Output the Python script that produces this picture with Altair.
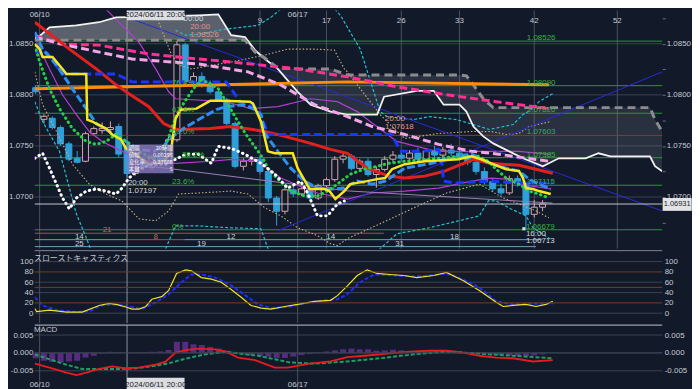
import altair as alt
import pandas as pd

# ---------------- colours / fonts ----------------
BG = "#121a2a"
GRID = "#3a4151"
VLINE = "#4a5060"
TXT = "#c4c8d0"
FONT = "Liberation Sans"
JFONT = "Noto Sans CJK JP"

X_DOM = [-0.1, 75.4]
P_DOM = [1.06494, 1.08827]
S_DOM = [-19.2, 121.2]
M_DOM = [-0.01111, 0.00778]

# ---------------- data ----------------
# candles: bar index, open, high, low, close (4h bars)
candles = [
    (0, 1.0807, 1.0809, 1.0801, 1.0803), (1, 1.0776, 1.0781, 1.0772, 1.0779),
    (2, 1.0777, 1.0779, 1.0766, 1.0768), (3, 1.0768, 1.0770, 1.0750, 1.0752),
    (4, 1.0752, 1.0754, 1.0735, 1.0737), (5, 1.0738, 1.0745, 1.0733, 1.0734),
    (6, 1.0735, 1.0764, 1.0734, 1.0762), (7, 1.0762, 1.0769, 1.0761, 1.0767),
    (8, 1.0765, 1.0773, 1.0762, 1.0767), (9, 1.0766, 1.0774, 1.0761, 1.0768),
    (10, 1.0769, 1.0772, 1.0739, 1.0742), (11, 1.0750, 1.0752, 1.07197, 1.0723),
    (12, 1.0723, 1.0737, 1.0721, 1.0734), (13, 1.0734, 1.0738, 1.0726, 1.0729),
    (14, 1.0729, 1.0741, 1.0727, 1.0738), (15, 1.0738, 1.0742, 1.0733, 1.0736),
    (16, 1.0736, 1.0759, 1.0734, 1.0756), (17, 1.0756, 1.08526, 1.0754, 1.0849),
    (18, 1.0849, 1.0851, 1.0811, 1.0813), (19, 1.0813, 1.0822, 1.0807, 1.0818),
    (20, 1.0818, 1.0822, 1.0807, 1.0810), (21, 1.0810, 1.0814, 1.0801, 1.0803),
    (22, 1.0803, 1.0806, 1.0793, 1.0795), (23, 1.0795, 1.0797, 1.0770, 1.0772),
    (24, 1.0772, 1.0774, 1.0728, 1.0730), (25, 1.0730, 1.0738, 1.0726, 1.0735),
    (26, 1.0735, 1.0739, 1.0731, 1.0737), (27, 1.0737, 1.0740, 1.0722, 1.0725),
    (28, 1.0725, 1.0727, 1.0695, 1.0699), (29, 1.0699, 1.0701, 1.0672, 1.0686),
    (30, 1.0686, 1.0710, 1.0683, 1.0707), (31, 1.0707, 1.0711, 1.0700, 1.0703),
    (32, 1.0703, 1.0710, 1.0701, 1.0708), (33, 1.0708, 1.0711, 1.0696, 1.0699),
    (34, 1.0699, 1.0713, 1.0697, 1.0711), (35, 1.0711, 1.0719, 1.0708, 1.0717),
    (36, 1.0717, 1.0740, 1.0715, 1.0737), (37, 1.0737, 1.0743, 1.0733, 1.0740),
    (38, 1.0740, 1.0742, 1.0726, 1.0728), (39, 1.0728, 1.0737, 1.0725, 1.0735),
    (40, 1.0735, 1.0738, 1.0720, 1.0722), (41, 1.0722, 1.0730, 1.0709, 1.0727),
    (42, 1.0727, 1.0740, 1.0725, 1.0737), (43, 1.0737, 1.0745, 1.0734, 1.0741),
    (44, 1.0741, 1.0745, 1.0735, 1.0738), (45, 1.0738, 1.0746, 1.0736, 1.0743),
    (46, 1.0743, 1.0748, 1.0734, 1.0737), (47, 1.0737, 1.0747, 1.0735, 1.0745),
    (48, 1.0745, 1.0750, 1.0739, 1.0741), (49, 1.0741, 1.0749, 1.0739, 1.0746),
    (50, 1.0746, 1.0752, 1.0740, 1.0743), (51, 1.0743, 1.0746, 1.0736, 1.0739),
    (52, 1.0739, 1.0742, 1.0731, 1.0734), (53, 1.0734, 1.0736, 1.0722, 1.0725),
    (54, 1.0725, 1.0729, 1.0712, 1.0715), (55, 1.0715, 1.0718, 1.0705, 1.0708),
    (56, 1.0708, 1.0713, 1.0701, 1.0704), (57, 1.0704, 1.0721, 1.0702, 1.0718),
    (58, 1.0718, 1.0721, 1.0710, 1.0713), (59, 1.0713, 1.0715, 1.06679, 1.0683),
    (60, 1.0683, 1.0697, 1.0680, 1.0690), (61, 1.0690, 1.0697, 1.0686, 1.06931),
]

# ichimoku cloud: x, leading span A (white), leading span B (grey dashed)
cloud = [
    (-0.1, 1.08536, 1.08536), (1.67, 1.08662, 1.08536), (4.90, 1.08681, 1.08536),
    (7.64, 1.08711, 1.08536), (9.68, 1.08759, 1.08536), (19.59, 1.08779, 1.08536),
    (21.98, 1.08788, 1.08536), (23.53, 1.08584, 1.08536), (25.20, 1.08565, 1.08536),
    (26.40, 1.08438, 1.08419), (27.59, 1.08351, 1.08361), (29.14, 1.08254, 1.08263),
    (31.53, 1.08030, 1.08254), (33.09, 1.07904, 1.08254), (35.48, 1.07836, 1.08254),
    (37.51, 1.07807, 1.08195), (41.09, 1.07807, 1.08195), (41.93, 1.07982, 1.08195),
    (45.87, 1.08040, 1.08195), (47.90, 1.08040, 1.08195), (49.09, 1.07904, 1.08195),
    (51.00, 1.07904, 1.08195), (51.84, 1.07836, 1.08186), (52.68, 1.07690, 1.08098),
    (53.87, 1.07593, 1.07962), (55.06, 1.07525, 1.07875), (56.98, 1.07447, 1.07875),
    (58.65, 1.07379, 1.07875), (61.04, 1.07301, 1.07875), (62.95, 1.07379, 1.07875),
    (66.17, 1.07379, 1.07875), (67.73, 1.07428, 1.07875), (69.16, 1.07398, 1.07875),
    (73.93, 1.07398, 1.07875), (74.53, 1.07301, 1.07758), (75.4, 1.07253, 1.07641),
]

red_ma = [(-0.1, 1.08711), (4.06, 1.08448), (7.29, 1.08254), (9.68, 1.08098), (11.23, 1.08011),
          (13.62, 1.07884), (15.41, 1.07719), (16.96, 1.07661), (21.02, 1.07671), (23.41, 1.07690),
          (26.16, 1.07661), (27.59, 1.07641), (29.98, 1.07593), (33.09, 1.07525), (35.48, 1.07466),
          (37.51, 1.07428), (39.89, 1.07282), (42.52, 1.07204), (44.43, 1.07185), (46.82, 1.07204),
          (49.21, 1.07253), (52.68, 1.07369), (54.59, 1.07330), (58.17, 1.07310), (62.23, 1.07233)]

yellow_line = [(-0.1, 1.08497), (0.48, 1.08448), (0.84, 1.08370), (2.03, 1.08370), (3.23, 1.08254),
               (3.70, 1.08205), (6.09, 1.08205), (6.21, 1.07758), (6.81, 1.07739), (7.29, 1.07719),
               (8.48, 1.07671), (9.20, 1.07612), (10.27, 1.07564), (10.87, 1.07476), (11.82, 1.07428),
               (13.62, 1.07321), (15.41, 1.07350), (16.24, 1.07428), (16.48, 1.07564), (16.84, 1.07768),
               (17.44, 1.07855), (19.35, 1.07865), (20.19, 1.07904), (21.02, 1.07943), (22.58, 1.07943),
               (25.80, 1.07933), (26.16, 1.07914), (27.11, 1.07739), (27.95, 1.07447), (28.79, 1.07428),
               (30.94, 1.07428), (31.53, 1.07282), (32.97, 1.07078), (34.76, 1.07078), (35.36, 1.07058),
               (36.07, 1.06980), (37.15, 1.07058), (37.86, 1.07126), (39.89, 1.07155), (41.09, 1.07175),
               (42.05, 1.07185), (42.88, 1.07272), (44.43, 1.07321), (46.82, 1.07350), (50.88, 1.07369),
               (52.44, 1.07398), (53.63, 1.07369), (54.83, 1.07330), (56.62, 1.07272), (58.17, 1.07253),
               (58.65, 1.07185), (59.01, 1.07087), (59.84, 1.07078), (60.56, 1.07058), (61.99, 1.07029)]

blue_dash = [(-0.1, 1.08419), (1.31, 1.08419), (3.23, 1.08205), (9.68, 1.08205), (11.59, 1.08127),
             (22.93, 1.08127), (23.53, 1.08059), (24.61, 1.07933), (26.76, 1.07865), (27.11, 1.07807),
             (27.95, 1.07612), (42.88, 1.07612), (43.48, 1.07515), (44.08, 1.07447), (46.46, 1.07447),
             (48.49, 1.07466), (48.85, 1.07350), (49.09, 1.07155), (50.41, 1.07136), (54.47, 1.07155),
             (58.17, 1.07136), (62.23, 1.07136)]

lblue_dash = [(-0.1, 1.08614), (0.84, 1.08448), (2.51, 1.08293), (4.42, 1.08059), (6.09, 1.07865),
              (7.29, 1.07719), (8.84, 1.07641), (10.03, 1.07593), (10.87, 1.07544), (12.42, 1.07466),
              (14.21, 1.07447), (15.41, 1.07496), (16.01, 1.07564), (17.80, 1.07671), (19.83, 1.07768),
              (21.74, 1.07855), (22.93, 1.07884), (24.96, 1.07904), (26.16, 1.07865), (27.11, 1.07807),
              (27.59, 1.07622), (29.14, 1.07447), (30.70, 1.07282), (32.37, 1.07155), (33.92, 1.07087),
              (35.95, 1.07078), (37.15, 1.07087), (38.70, 1.07155), (40.49, 1.07126), (42.05, 1.07155),
              (44.43, 1.07282), (47.66, 1.07330), (50.88, 1.07398), (52.44, 1.07418), (53.63, 1.07379),
              (54.47, 1.07330), (56.62, 1.07282), (58.17, 1.07253), (59.36, 1.07175), (60.56, 1.07126),
              (61.99, 1.07078)]

green_dot = [(-0.1, 1.08487), (0.48, 1.08322), (1.67, 1.08059), (2.87, 1.07865), (4.42, 1.07671),
             (6.09, 1.07544), (7.29, 1.07515), (8.48, 1.07544), (9.68, 1.07612), (10.87, 1.07544),
             (12.42, 1.07447), (14.21, 1.07369), (15.41, 1.07447), (16.24, 1.07641), (16.96, 1.07807),
             (18.16, 1.07962), (19.35, 1.08098), (19.95, 1.08147), (21.02, 1.08108), (21.98, 1.08059),
             (22.93, 1.07933), (24.13, 1.07768), (25.32, 1.07612), (26.52, 1.07476), (27.35, 1.07379),
             (27.95, 1.07282), (29.14, 1.07175), (30.70, 1.07058), (32.37, 1.07010), (33.92, 1.07010),
             (35.12, 1.07058), (36.31, 1.07126), (37.86, 1.07223), (39.54, 1.07272), (41.09, 1.07301),
             (42.52, 1.07330), (44.43, 1.07350), (48.49, 1.07379), (50.88, 1.07398), (53.27, 1.07398),
             (54.47, 1.07350), (55.42, 1.07272), (56.62, 1.07185), (58.17, 1.07126), (59.36, 1.07058),
             (60.56, 1.07029), (61.75, 1.06990)]

chikou = [(-0.1, 1.07379), (0.84, 1.07428), (1.67, 1.07282), (2.51, 1.07126), (3.23, 1.06990),
          (4.06, 1.06883), (4.90, 1.06990), (6.09, 1.07058), (7.29, 1.07078), (8.48, 1.07058),
          (9.68, 1.07029), (10.39, 1.07087), (11.23, 1.07185), (12.42, 1.07272), (13.98, 1.07321),
          (15.65, 1.07321), (18.04, 1.07418), (19.59, 1.07418), (21.14, 1.07330), (21.98, 1.07496),
          (23.53, 1.07476), (25.20, 1.07418), (27.11, 1.07330), (28.79, 1.07223), (30.34, 1.07087),
          (31.89, 1.07155), (32.73, 1.07039), (33.92, 1.06815), (35.12, 1.06815), (36.31, 1.06932),
          (37.15, 1.06961)]

hot_pink = [(-0.1, 1.08584), (2.87, 1.08497), (7.64, 1.08487), (13.62, 1.08400), (19.59, 1.08351),
            (23.53, 1.08322), (31.53, 1.08254), (37.51, 1.08176), (43.48, 1.08079), (49.45, 1.08001),
            (55.42, 1.07933), (61.75, 1.07865)]

light_pink = [(-0.1, 1.08565), (3.70, 1.08487), (11.59, 1.08351), (19.59, 1.08302), (25.56, 1.08225),
              (29.50, 1.08098), (33.56, 1.07904), (37.51, 1.07787), (40.49, 1.07690), (44.43, 1.07612),
              (48.49, 1.07515), (52.44, 1.07447), (54.83, 1.07428), (61.75, 1.07350)]

orange_line = [(-0.1, 1.08059), (37.51, 1.08127), (61.75, 1.08098)]

mag_upper = [(7.64, 1.08905), (9.20, 1.08779), (12.42, 1.08516), (14.45, 1.08254), (16.01, 1.08030),
             (16.84, 1.07962), (22.81, 1.07933), (25.92, 1.07865), (29.14, 1.07884), (33.09, 1.07962),
             (36.31, 1.07933), (38.70, 1.07836), (40.25, 1.07739), (43.48, 1.07544), (48.25, 1.07447),
             (54.23, 1.07447), (58.17, 1.07447), (61.99, 1.07418)]

mag_lower = [(0.12, 1.08516), (1.67, 1.08254), (3.23, 1.08001), (4.90, 1.07807), (6.45, 1.07641),
             (8.00, 1.07544), (9.68, 1.07476), (10.87, 1.07428), (13.62, 1.07350), (16.84, 1.07330),
             (21.14, 1.07350), (23.53, 1.07369), (26.76, 1.07350), (29.50, 1.07185), (32.37, 1.07087),
             (33.92, 1.07039), (37.51, 1.06980), (40.49, 1.07039), (44.43, 1.07058), (48.49, 1.07087),
             (52.44, 1.07155), (54.83, 1.07185), (56.62, 1.07175), (58.17, 1.07126), (61.99, 1.07078)]

cyan_upper = [(16.84, 1.08633), (18.04, 1.08584), (19.59, 1.08594), (22.81, 1.08643), (26.76, 1.08681),
              (28.31, 1.08759), (29.74, 1.08856), (35.6, 1.08876), (36.67, 1.08779), (37.51, 1.08662),
              (39.06, 1.08448), (41.45, 1.07836), (42.29, 1.07787), (45.51, 1.07758), (47.42, 1.07787),
              (50.65, 1.07758), (52.68, 1.07709), (54.59, 1.07661), (57.45, 1.07709), (58.65, 1.07807),
              (59.84, 1.07865), (60.56, 1.07933), (62.23, 1.08011)]

cyan_lower = [(-0.1, 1.07933), (0.84, 1.07739), (2.87, 1.07447), (4.90, 1.06835), (6.09, 1.06601),
              (6.69, 1.06475), (7.3, 1.0630), (15.0, 1.0630), (15.65, 1.06495), (16.84, 1.06718),
              (19.35, 1.06718), (23.17, 1.06699), (27.11, 1.06689), (27.95, 1.06494), (28.5, 1.0630),
              (40.8, 1.0630), (41.45, 1.06494), (43.48, 1.06640), (47.42, 1.06699), (53.39, 1.06815),
              (54.47, 1.06961), (55.42, 1.06961), (57.21, 1.06883), (59.01, 1.06815), (59.84, 1.06699),
              (62.23, 1.06572)]

tan_upper = [(14.21, 1.08905), (14.81, 1.08711), (16.36, 1.08390), (17.2, 1.08293), (18.75, 1.08254),
             (23.53, 1.08322), (27.59, 1.08390), (30.34, 1.08448), (33.56, 1.08448), (35.95, 1.08438),
             (37.15, 1.08254), (37.51, 1.08225), (41.45, 1.07807), (43.48, 1.07641), (44.43, 1.07573),
             (48.49, 1.07622), (52.44, 1.07641), (54.83, 1.07641), (56.62, 1.07612), (58.17, 1.07622),
             (59.36, 1.07690), (61.99, 1.07739)]

tan_lower = [(-0.1, 1.08225), (0.84, 1.07904), (2.51, 1.07641), (4.42, 1.07321), (6.45, 1.07126),
             (8.48, 1.07029), (10.39, 1.06961), (12.42, 1.06786), (14.45, 1.06767), (16.01, 1.06864),
             (17.2, 1.07029), (19.59, 1.07039), (23.53, 1.07058), (25.56, 1.07029), (27.59, 1.06893),
             (29.50, 1.06815), (31.53, 1.06699), (33.92, 1.06621), (35.48, 1.06543), (36.31, 1.06524),
             (37.51, 1.06592), (41.45, 1.06738), (45.51, 1.06893), (49.45, 1.07039), (53.39, 1.07126),
             (56.26, 1.06990), (58.17, 1.06932), (60.20, 1.06864), (61.75, 1.06796)]

trend_down = [(10.99, 1.08759), (75.4, 1.06864)]
trend_up = [(29.14, 1.06669), (75.4, 1.08225)]
measure_line = [(11.0, 1.0733), (37.5, 1.0706), (62.2, 1.0694)]

fib_green = [1.08526, 1.08090, 1.07820, 1.07385, 1.07115, 1.06679]
fib_mid = [1.07603]
fib_text = [("1.08526", 59.1, 1.08526), ("1.08090", 59.1, 1.08090), ("1.07820", 59.1, 1.07820),
            ("1.07603", 59.1, 1.07603), ("1.07385", 59.1, 1.07385), ("1.07115", 59.1, 1.07115)]
fib_pct = [("76.4%", 16.4, 1.08090), ("61.8%", 16.4, 1.07820), ("50.0%", 16.4, 1.07603),
           ("38.2%", 17.6, 1.07385), ("23.6%", 16.4, 1.07115), ("0%", 16.4, 1.06679)]

count_red = [(-0.1, 41.9, 1.06645), (11.0, 17.9, 1.06582)]
count_steel = [(-0.1, 11.0, 1.06582), (17.9, 61.0, 1.06582), (-0.1, 60.2, 1.06514)]
count_red_txt = [("21", 8.6, 1.06645), ("8", 14.45, 1.06582)]
count_steel_txt = [("14", 5.26, 1.06582), ("12", 23.5, 1.06582), ("14", 35.5, 1.06582),
                   ("18", 50.4, 1.06582), ("25", 5.26, 1.06514), ("19", 19.95, 1.06514),
                   ("31", 43.8, 1.06514)]

vgrid_main = [0.48, 27, 31.53, 35, 44, 51, 60, 70]
cursor_x = [11.0]
vgrid_sub = [0.48, 31.53]

price_ticks = [1.0700, 1.0750, 1.0800, 1.0850]
price_ticks_r = [1.0675, 1.0700, 1.0725, 1.0750, 1.0775, 1.0800, 1.0825, 1.0850, 1.0875]
last_price = [1.06931]

top_dates = [("06/10", 0.48, 1.08779), ("06/17", 31.53, 1.08779)]
top_counts = [("9", 27, 1.08722), ("17", 35, 1.08722), ("26", 44, 1.08722), ("33", 51, 1.08722),
              ("42", 60, 1.08722), ("52", 70, 1.08722)]
cursor_box_top = [(10.99, 17.92, 1.08827, 1.08730)]
cursor_txt_top = [("2024/06/11 20:00", 14.45, 1.08779)]

marks_white = [("00:00", 17.8, 1.08740), ("20:00", 11.1, 1.07136), ("1.07197", 11.1, 1.07058),
               ("16:00", 59.0, 1.06640), ("1.06713", 59.0, 1.06572)]
marks_salmon = [("20:00", 18.6, 1.08662), ("1.08526", 18.6, 1.08584),
                ("20:00", 42.05, 1.07768), ("1.07618", 42.05, 1.07681)]
low_mark = [("1.06679", 59.0, 1.06709)]
low_dot = [(58.75, 1.06689)]

info_box = [(11.0, 16.6, 1.07233, 1.07515)]
info_left = [("期間", 11.2, 1.07476), ("値幅", 11.2, 1.07408), ("変化率", 11.2, 1.07340),
             ("本数", 11.2, 1.07272)]
info_right = [("20時間", 16.5, 1.07476), ("0.00298", 16.5, 1.07408), ("0.27868", 16.5, 1.07340),
              ("5", 16.5, 1.07272)]

price_box = [(75.45, 78.95, 1.06864, 1.06990)]
price_box_txt = [("1.06931", 77.2, 1.06931)]

# slow stochastics
stoch_k = [(-0.1, 9), (0.12, 3), (1.67, 6), (3.70, 2), (5.61, 2), (7.64, 15), (8.84, 19), (9.68, 17),
           (10.87, 12), (11.59, 8), (12.42, 8), (13.26, 13), (13.98, 27), (15.17, 32), (16.01, 44),
           (16.96, 77), (18.04, 84), (18.75, 82), (19.95, 69), (21.14, 66), (22.34, 60), (23.53, 46),
           (24.73, 31), (25.92, 15), (27.11, 10), (28.31, 8), (29.98, 13), (31.53, 17), (33.56, 23),
           (35.48, 25), (36.31, 34), (37.51, 53), (38.70, 73), (39.89, 84), (41.09, 77), (42.64, 75),
           (44.31, 73), (45.87, 69), (47.90, 73), (49.45, 79), (51.48, 63), (53.39, 44), (55.42, 21),
           (56.26, 13), (57.45, 15), (59.01, 17), (60.20, 13), (61.40, 17), (62.23, 23)]
stoch_d = [(-0.1, 31), (0.84, 15), (2.51, 6), (4.90, 2), (6.45, 4), (8.00, 15), (9.68, 17), (11.59, 12),
           (12.78, 8), (14.45, 21), (16.01, 37), (17.56, 60), (18.75, 75), (19.95, 75), (21.62, 69),
           (23.53, 54), (25.20, 35), (26.76, 17), (28.31, 10), (30.34, 12), (32.37, 19), (34.76, 25),
           (36.31, 27), (37.51, 37), (39.06, 60), (40.73, 75), (43.48, 73), (45.51, 71), (47.42, 73),
           (49.45, 77), (51.48, 65), (53.39, 50), (55.42, 23), (57.45, 17), (59.84, 19), (62.23, 19)]
stoch_grid = [0, 40, 60, 100]
stoch_levels = [20, 50, 80]
stoch_ticks = [0, 20, 40, 60, 80, 100]

# MACD
macd_line = [(-0.1, -0.0030), (1.67, -0.0041), (3.70, -0.0055), (4.90, -0.0062), (6.09, -0.0055),
             (7.64, -0.0045), (9.20, -0.0038), (10.87, -0.0043), (12.42, -0.0041), (14.45, -0.0033),
             (15.65, -0.0024), (16.84, 0.0001), (18.04, 0.0008), (19.59, 0.0012), (21.62, 0.0010),
             (22.81, 0.0004), (24.37, -0.0013), (26.40, -0.0020), (28.79, -0.0041), (30.34, -0.0041),
             (32.73, -0.0031), (35.48, -0.0024), (37.51, -0.0012), (39.54, -0.0008), (41.45, -0.0004),
             (43.48, 0.0001), (45.51, 0.0004), (47.42, 0.0006), (49.45, 0.0006), (51.48, 0.0001),
             (53.39, -0.0008), (55.42, -0.0013), (57.45, -0.0015), (59.84, -0.0024), (62.23, -0.0020)]
macd_signal = [(-0.1, -0.0004), (1.67, -0.0018), (3.70, -0.0033), (5.61, -0.0045), (7.64, -0.0045),
               (9.68, -0.0045), (11.59, -0.0044), (14.45, -0.0036), (16.36, -0.0027), (18.04, -0.0016),
               (20.43, -0.0004), (22.81, 0.0003), (24.37, -0.0001), (26.76, -0.0008), (28.79, -0.0018),
               (30.70, -0.0027), (33.56, -0.0030), (37.51, -0.0024), (41.45, -0.0015), (45.51, -0.0004),
               (49.45, 0.0004), (53.39, -0.0002), (57.45, -0.0008), (62.23, -0.0015)]
macd_hist = [-0.0015, -0.0022, -0.0025, -0.0027, -0.0024, -0.0022, -0.0013, -0.0008, -0.0002, 0.0003,
             0.0001, 0.0000, 0.0001, 0.0002, 0.0003, 0.0004, 0.0008, 0.0031, 0.0031, 0.0024,
             0.0022, 0.0017, 0.0012, 0.0006, -0.0002, -0.0004, -0.0007, -0.0009, -0.0011, -0.0014,
             -0.0014, -0.0010, -0.0006, -0.0003, 0.0001, 0.0004, 0.0007, 0.0010, 0.0012, 0.0010,
             0.0010, 0.0006, 0.0007, 0.0009, 0.0007, 0.0004, 0.0002, 0.0002, 0.0001, 0.0000,
             -0.0001, -0.0001, -0.0002, -0.0003, -0.0003, -0.0004, -0.0006, -0.0007, -0.0009, -0.0009,
             -0.0007, -0.0004]
macd_ticks = [-0.005, 0.0, 0.005]
bottom_dates = [("06/10", 0.48, -0.00889), ("06/17", 31.53, -0.00889)]
cursor_box_bot = [(10.99, 17.92, -0.00694, -0.01083)]
cursor_txt_bot = [("2024/06/11 20:00", 14.45, -0.00889)]


# ---------------- helpers ----------------
def XE(f="x"):
    return alt.X(f"{f}:Q", scale=alt.Scale(domain=X_DOM, nice=False, zero=False, padding=0), axis=None)


def YE(dom, f="y", axis=None):
    return alt.Y(f"{f}:Q", scale=alt.Scale(domain=dom, nice=False, zero=False), axis=axis)


def series(pairs, dom, color, width=1.0, dash=None, cap="butt", opacity=1.0):
    df = pd.DataFrame(pairs, columns=["x", "y"])
    kw = dict(color=color, strokeWidth=width, strokeCap=cap, opacity=opacity, clip=True)
    if dash is not None:
        kw["strokeDash"] = dash
    return alt.Chart(df).mark_line(**kw).encode(x=XE(), y=YE(dom))


def hlines(vals, dom, color, width=1.0, axis=None):
    df = pd.DataFrame({"y": vals})
    return alt.Chart(df).mark_rule(color=color, strokeWidth=width).encode(y=YE(dom, axis=axis))


def vlines(vals, color, width=1.0):
    df = pd.DataFrame({"x": vals})
    return alt.Chart(df).mark_rule(color=color, strokeWidth=width).encode(x=XE())


def segs(rows, dom, color, width=1.0):
    df = pd.DataFrame(rows, columns=["x", "x2", "y"])
    return alt.Chart(df).mark_rule(color=color, strokeWidth=width).encode(x=XE(), x2="x2:Q", y=YE(dom))


def labels(rows, dom, color, size=8, align="left", baseline="middle", font=FONT, dy=0):
    df = pd.DataFrame(rows, columns=["t", "x", "y"])
    return alt.Chart(df).mark_text(color=color, fontSize=size, align=align, baseline=baseline,
                                   font=font, dy=dy).encode(x=XE(), y=YE(dom), text="t:N")


def boxes(rows, dom, color, opacity=1.0):
    df = pd.DataFrame(rows, columns=["x", "x2", "y", "y2"])
    return alt.Chart(df).mark_rect(color=color, opacity=opacity).encode(
        x=XE(), x2="x2:Q", y=YE(dom), y2="y2:Q")


def axis(orient, values, fmt=None, expr=None, ticks=False):
    kw = dict(orient=orient, values=values, labelColor=TXT, labelFont=FONT, labelFontSize=8,
              domain=False, grid=False, title=None, labelPadding=2)
    if orient == "left":
        kw.update(minExtent=27, maxExtent=27)
    if ticks:
        kw.update(ticks=True, tickSize=3, tickColor="#6a707e", labelPadding=1)
    else:
        kw.update(ticks=False)
    if fmt is not None:
        kw["format"] = fmt
    if expr is not None:
        kw["labelExpr"] = expr
    return alt.Axis(**kw)


# ---------------- main price panel ----------------
cdf = pd.DataFrame(candles, columns=["x", "o", "h", "l", "c"])
up = cdf[cdf["c"] >= cdf["o"]]
dn = cdf[cdf["c"] < cdf["o"]]
BLUE_C = "#2f9fd9"
PINK_C = "#d7a3ad"

cl = pd.DataFrame(cloud, columns=["x", "a", "b"])
cloud_left = cl[cl["x"] <= 29.14]
cloud_right = cl[cl["x"] >= 29.14]

main_layers = [
    hlines(price_ticks, P_DOM, GRID, axis=axis("left", price_ticks, fmt=".4f")),
    vlines(vgrid_main, VLINE),
    vlines(cursor_x, "#8d929c"),
    alt.Chart(cloud_left).mark_area(color="#b4b6bd", opacity=0.45, clip=True).encode(
        x=XE(), y=YE(P_DOM, "a"), y2="b:Q"),
    alt.Chart(cloud_right).mark_area(color="#a3a7b0", opacity=0.16, clip=True).encode(
        x=XE(), y=YE(P_DOM, "a"), y2="b:Q"),
    hlines(fib_green, P_DOM, "#1f9d2c"),
    hlines(fib_mid, P_DOM, "#8b3b26"),
    segs(count_red, P_DOM, "#b34a45"),
    segs(count_steel, P_DOM, "#6b9fc2"),
    alt.Chart(dn).mark_rule(color=BLUE_C, strokeWidth=1).encode(x=XE(), y=YE(P_DOM, "l"), y2="h:Q"),
    alt.Chart(up).mark_rule(color=PINK_C, strokeWidth=1).encode(x=XE(), y=YE(P_DOM, "l"), y2="h:Q"),
    alt.Chart(dn).mark_bar(size=6, color=BLUE_C, stroke=BLUE_C, strokeWidth=1).encode(
        x=XE(), y=YE(P_DOM, "o"), y2="c:Q"),
    alt.Chart(up).mark_bar(size=6, fill=BG, stroke=PINK_C, strokeWidth=1).encode(
        x=XE(), y=YE(P_DOM, "o"), y2="c:Q"),
    series(tan_upper, P_DOM, "#c8b27c", 1.1, dash=[1.5, 2]),
    series(tan_lower, P_DOM, "#c8b27c", 1.1, dash=[1.5, 2]),
    series(cyan_upper, P_DOM, "#22c3cf", 1.2, dash=[3, 2]),
    series(cyan_lower, P_DOM, "#22c3cf", 1.2, dash=[3, 2]),
    series(mag_upper, P_DOM, "#b23dd0", 1.2),
    series(mag_lower, P_DOM, "#b23dd0", 1.2),
    series(trend_down, P_DOM, "#2a2ad6", 1.0),
    series(trend_up, P_DOM, "#2a2ad6", 1.0),
    series(measure_line, P_DOM, "#9c7fb4", 1.0),
    series(cl[["x", "a"]].values.tolist(), P_DOM, "#f2f2f2", 1.8),
    series(cl[["x", "b"]].values.tolist(), P_DOM, "#8c8c8c", 3, dash=[8, 5]),
    series(orange_line, P_DOM, "#ff8c0a", 3),
    series(hot_pink, P_DOM, "#ff2f93", 3, dash=[8, 4]),
    series(light_pink, P_DOM, "#f2a6e6", 3, dash=[8, 4]),
    series(red_ma, P_DOM, "#e3211c", 3),
    series(blue_dash, P_DOM, "#1837ff", 3, dash=[8, 4]),
    series(lblue_dash, P_DOM, "#2e8ff2", 3, dash=[8, 3]),
    series(green_dot, P_DOM, "#25d04a", 3, dash=[0.5, 4.5], cap="round"),
    series(yellow_line, P_DOM, "#f6e71d", 2.5),
    series(chikou, P_DOM, "#ffffff", 3, dash=[0.5, 4.5], cap="round"),
    boxes(info_box, P_DOM, "#8c7cc0", 0.78),
    labels(info_left, P_DOM, "#f4f4f8", size=5.5, font=JFONT),
    labels(info_right, P_DOM, "#f4f4f8", size=5.5, align="right", font=JFONT),
    labels(fib_text, P_DOM, "#3cb043", baseline="bottom", dy=1),
    labels(fib_pct, P_DOM, "#3cb043", baseline="bottom", dy=1),
    labels(count_red_txt, P_DOM, "#c8665e", align="center", baseline="bottom", dy=1),
    labels(count_steel_txt, P_DOM, "#c9d2dc", align="center", baseline="bottom", dy=1),
    labels(marks_white, P_DOM, "#d2d5db"),
    labels(marks_salmon, P_DOM, "#e0938c"),
    labels(low_mark, P_DOM, "#3cb043"),
    alt.Chart(pd.DataFrame(low_dot, columns=["x", "y"])).mark_square(size=10, color="#d8d8d8", opacity=1).encode(
        x=XE(), y=YE(P_DOM)),
    labels(top_dates, P_DOM, TXT, align="center"),
    labels(top_counts, P_DOM, TXT, align="center"),
    boxes(cursor_box_top, P_DOM, "#dcdde0"),
    labels(cursor_txt_top, P_DOM, "#20242c", align="center"),
    boxes(price_box, P_DOM, "#e2e3e6"),
    labels(price_box_txt, P_DOM, "#1b1f27", size=7.5, align="center"),
    hlines(last_price, P_DOM, "#c4c6cc", axis=axis(
        "right", price_ticks_r, ticks=True,
        expr="round(datum.value*10000) % 50 == 0 ? format(datum.value, '.4f') : ''")),
]

main = alt.layer(*main_layers).resolve_axis(y="independent").properties(width=632, height=240)

# ---------------- stochastics panel ----------------
stoch_layers = [
    hlines(stoch_grid, S_DOM, GRID, axis=axis("left", stoch_ticks, fmt="d")),
    vlines(vgrid_sub, VLINE),
    vlines(cursor_x, "#8d929c"),
    hlines([S_DOM[1]], S_DOM, "#80858f", 1.0),
    labels([("スローストキャスティクス", -0.2, 105.8)], S_DOM, TXT, size=8, font=JFONT),
    series(stoch_d, S_DOM, "#1f2cff", 2, dash=[4, 2]),
    series(stoch_k, S_DOM, "#f2e31c", 1.2),
    hlines(stoch_levels, S_DOM, "#7a3c18", axis=axis("right", stoch_ticks, fmt="d")),
]
stoch = alt.layer(*stoch_layers).resolve_axis(y="independent").properties(width=632, height=73)

# ---------------- MACD panel ----------------
hdf = pd.DataFrame({"x": list(range(len(macd_hist))), "v": macd_hist, "z": [0.0] * len(macd_hist)})
MEXPR = "replace(format(datum.value, '.3f'), '\u2212', '-')"
macd_layers = [
    hlines(macd_ticks, M_DOM, GRID, axis=axis("left", macd_ticks, expr=MEXPR)),
    vlines(vgrid_sub, VLINE),
    vlines(cursor_x, "#8d929c"),
    hlines([M_DOM[1]], M_DOM, "#c0c4cc", 1.0),
    alt.Chart(hdf).mark_bar(size=6, color="#5d2f8a", opacity=0.9).encode(
        x=XE(), y=YE(M_DOM, "v"), y2="z:Q"),
    series(macd_signal, M_DOM, "#1c9e62", 2, dash=[4, 2]),
    series(macd_line, M_DOM, "#e81c1c", 1.8),
    labels([("MACD", -0.2, 0.00639)], M_DOM, TXT, size=8),
    labels(bottom_dates, M_DOM, TXT, align="center"),
    boxes(cursor_box_bot, M_DOM, "#dcdde0"),
    labels(cursor_txt_bot, M_DOM, "#20242c", align="center"),
    hlines([0.0], M_DOM, GRID, axis=axis("right", macd_ticks, expr=MEXPR)),
]
macd = alt.layer(*macd_layers).resolve_axis(y="independent").properties(width=632, height=68)

chart = alt.vconcat(main, stoch, macd, spacing=0).properties(
    background=BG, padding=0
).configure_view(stroke=None)

chart.save("out.html", embed_options={"renderer": "svg", "actions": False})
